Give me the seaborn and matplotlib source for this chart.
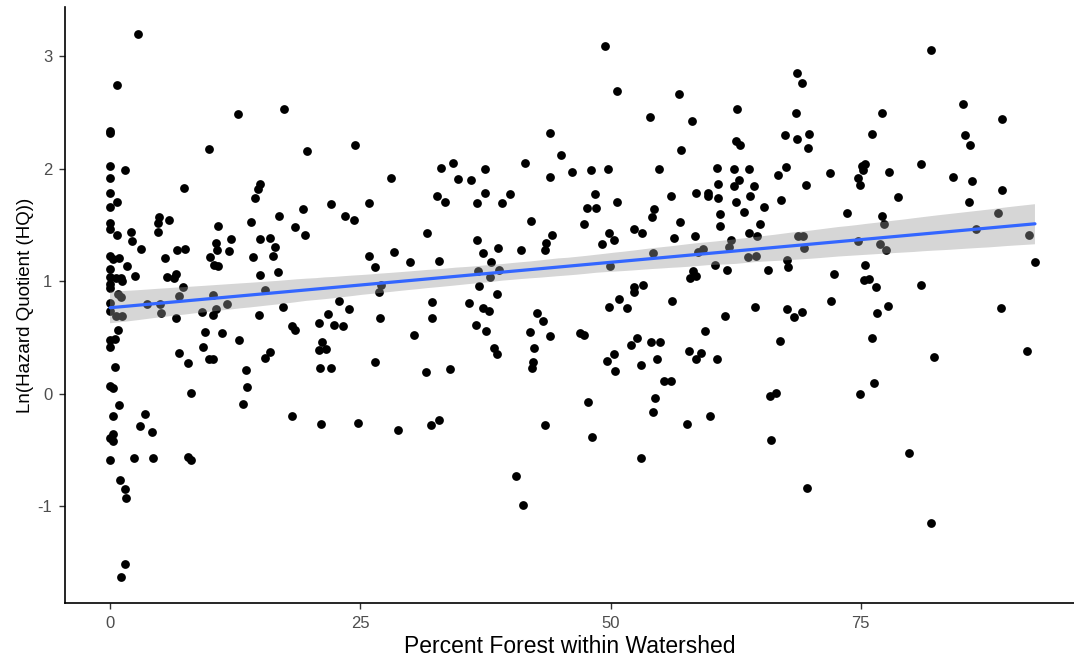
import matplotlib
matplotlib.use("Agg")
import matplotlib.pyplot as plt
from matplotlib.collections import PolyCollection
import seaborn as sns
import pandas as pd

# ---- data ----
forest_pct = [
    # 0-21 %
    2.76, 0.67, 0.0, 0.0, 12.8, 17.4, 9.87, 19.7, 0.0, 1.5, 0.0, 7.38, 15.0, 14.8, 14.5, 0.0, 0.73, 0.0,
    19.3, 16.9, 14.1, 4.89, 4.75, 4.75, 5.88, 0.0, 0.0, 2.06, 0.73, 10.8, 18.5, 19.5, 2.19, 3.09, 10.57,
    10.7, 10.0, 10.4, 10.8, 12.1, 11.9, 15.0, 16.0, 16.5, 16.3, 14.3, 15.0, 16.8, 6.68, 7.45, 5.48, 0.0,
    0.33, 0.9, 1.66, 2.49, 0.0, 0.0, 0.57, 1.1, 1.23, 0.0, 0.0, 5.72, 6.38, 6.61, 7.25, 0.83, 1.07, 6.85,
    10.3, 15.45, 0.0, 0.0, 3.65, 4.99, 11.7, 10.57, 5.05, 9.14, 10.3, 14.9, 17.3, 0.6, 1.17, 6.55,
    0.77, 0.0, 0.5, 0.0, 9.44, 11.2, 12.9, 9.24, 6.91, 7.81, 9.87, 10.3, 16.0, 15.5, 18.2, 18.5, 20.9,
    21.2, 20.9, 21.0, 0.5, 13.6, 0.0, 0.33, 8.1, 13.7, 13.3, 0.93, 0.33, 3.46, 2.99, 4.22, 18.2, 21.1,
    0.33, 0.0, 0.33, 0.0, 2.39, 4.32, 7.81, 8.04, 1.0, 1.46, 1.6, 1.46, 1.1,
    # 21-47 %
    24.5, 44.0, 45.1, 46.1, 28.1, 33.1, 34.3, 37.5, 34.8, 36.1, 41.5, 44.0, 22.1, 25.9, 23.5, 24.4, 32.7,
    33.5, 37.5, 36.7, 40.0, 39.2, 42.1, 31.7, 36.7, 44.2, 43.6, 43.5, 38.8, 41.1, 37.3, 38.1, 25.9, 26.5,
    28.4, 30.0, 32.9, 36.8, 38.0, 38.9, 27.1, 26.9, 36.9, 38.7, 22.9, 23.9, 21.8, 32.2, 35.9, 37.3, 37.9,
    42.7, 27.0, 32.2, 43.3,
    22.4, 23.3, 30.4, 36.6, 37.6, 42.0, 44.0, 46.9, 21.6, 38.4, 38.7, 42.4, 42.3, 42.2, 22.1, 26.5, 31.6,
    34.0, 24.8, 28.8, 32.1, 32.9, 43.5, 40.6, 41.3,
    # 47-72 %
    49.45, 50.6, 56.8, 53.9, 58.1, 62.6, 57.0, 68.6, 69.1, 68.5, 67.4, 68.6, 69.8, 69.7, 62.5, 62.9, 48.0,
    49.7, 54.8, 60.6, 62.3, 63.8, 67.5, 66.7, 71.95, 69.5, 60.7, 62.8, 62.3, 64.3, 48.4, 56.0, 58.55, 59.7,
    59.75, 60.75, 62.5, 63.9, 67.0, 50.6, 47.6, 48.5, 54.3, 54.1, 60.9, 63.3, 65.3, 47.3, 56.9, 60.9, 64.9,
    49.85, 50.3, 49.1, 52.3, 53.1, 56.3, 58.45, 63.8, 64.6, 62.0, 61.8, 68.7, 69.2, 69.3, 54.2, 59.2, 58.7,
    63.7, 64.5, 49.95, 60.4, 67.6, 67.7, 58.2, 58.5, 57.9, 61.6, 65.7, 72.3, 53.2, 52.3, 52.3, 50.8, 49.85,
    51.6, 56.1, 64.4, 67.6, 69.1, 68.3, 72.0, 61.4,
    47.3, 59.45, 66.95, 52.6, 52.0, 54.0, 54.9, 50.3, 49.6, 50.4, 53.0, 54.6, 57.8, 59.0, 58.5, 60.6, 55.3,
    56.0, 54.4, 54.2, 47.7, 48.1, 53.0, 57.6, 59.9, 65.9, 66.5, 66.0, 69.6,
    # 72-93 %
    82.05, 85.2, 89.1, 77.1, 76.1, 85.4, 85.9, 81.0, 75.1, 75.4, 75.2, 74.7, 74.9, 77.8, 84.2, 86.1, 89.1,
    78.7, 85.8, 73.6, 77.1, 77.3, 88.7, 86.5, 74.7, 76.9, 77.5, 91.8, 92.4, 75.4, 75.3, 75.8, 76.5, 81.0,
    76.6, 77.7, 89.0,
    76.1, 82.3, 91.6, 76.3, 74.9, 79.8, 82.05,
]

ln_hq = [
    # 0-21 %
    3.20, 2.75, 2.34, 2.32, 2.49, 2.53, 2.18, 2.16, 2.03, 1.99, 1.92, 1.83, 1.87, 1.82, 1.74, 1.79, 1.71, 1.66,
    1.64, 1.58, 1.53, 1.57, 1.52, 1.44, 1.55, 1.52, 1.47, 1.44, 1.41, 1.49, 1.48, 1.41, 1.36, 1.29, 1.34,
    1.28, 1.22, 1.15, 1.14, 1.38, 1.27, 1.38, 1.39, 1.31, 1.23, 1.22, 1.06, 1.08, 1.28, 1.29, 1.21, 1.23,
    1.20, 1.21, 1.14, 1.05, 1.11, 1.04, 1.03, 1.03, 1.00, 0.98, 0.94, 1.04, 1.03, 1.07, 0.95, 0.89, 0.86, 0.87,
    0.88, 0.92, 0.81, 0.74, 0.80, 0.80, 0.80, 0.75, 0.72, 0.73, 0.70, 0.70, 0.77, 0.69, 0.69, 0.67,
    0.57, 0.48, 0.49, 0.42, 0.55, 0.54, 0.48, 0.42, 0.36, 0.27, 0.31, 0.31, 0.37, 0.32, 0.60, 0.57, 0.63,
    0.46, 0.39, 0.23, 0.24, 0.21, 0.07, 0.05, 0.01, 0.06, -0.09, -0.10, -0.20, -0.18, -0.29, -0.34, -0.20, -0.27,
    -0.36, -0.39, -0.42, -0.59, -0.57, -0.57, -0.56, -0.59, -0.77, -0.85, -0.93, -1.51, -1.63,
    # 21-47 %
    2.21, 2.32, 2.12, 1.97, 1.92, 2.01, 2.05, 2.00, 1.91, 1.90, 2.05, 1.93, 1.69, 1.70, 1.58, 1.55, 1.76,
    1.71, 1.79, 1.70, 1.78, 1.70, 1.54, 1.43, 1.37, 1.41, 1.34, 1.28, 1.30, 1.28, 1.25, 1.17, 1.23, 1.13,
    1.26, 1.17, 1.18, 1.09, 1.04, 1.10, 0.97, 0.91, 0.96, 0.89, 0.83, 0.75, 0.71, 0.82, 0.81, 0.76, 0.74,
    0.72, 0.67, 0.67, 0.65,
    0.61, 0.60, 0.52, 0.61, 0.56, 0.55, 0.51, 0.54, 0.40, 0.41, 0.35, 0.41, 0.28, 0.23, 0.23, 0.28, 0.19,
    0.22, -0.26, -0.32, -0.28, -0.23, -0.28, -0.73, -0.99,
    # 47-72 %
    3.09, 2.69, 2.67, 2.46, 2.43, 2.53, 2.17, 2.85, 2.76, 2.50, 2.30, 2.27, 2.31, 2.19, 2.25, 2.21, 1.99,
    2.00, 2.00, 2.01, 2.00, 2.00, 2.02, 1.95, 1.96, 1.86, 1.87, 1.90, 1.85, 1.85, 1.78, 1.76, 1.79, 1.79,
    1.76, 1.74, 1.71, 1.76, 1.72, 1.71, 1.65, 1.65, 1.64, 1.57, 1.60, 1.62, 1.66, 1.51, 1.53, 1.49, 1.51,
    1.43, 1.37, 1.33, 1.47, 1.43, 1.39, 1.40, 1.43, 1.40, 1.37, 1.31, 1.40, 1.40, 1.30, 1.25, 1.29, 1.26,
    1.22, 1.23, 1.14, 1.15, 1.19, 1.13, 1.09, 1.05, 1.03, 1.10, 1.10, 1.07, 0.97, 0.95, 0.91, 0.84, 0.77,
    0.76, 0.83, 0.77, 0.75, 0.73, 0.68, 0.83, 0.69,
    0.52, 0.56, 0.47, 0.50, 0.43, 0.46, 0.46, 0.35, 0.29, 0.20, 0.26, 0.31, 0.38, 0.36, 0.31, 0.31, 0.11,
    0.11, -0.04, -0.16, -0.07, -0.38, -0.57, -0.27, -0.20, -0.02, 0.01, -0.41, -0.84,
    # 72-93 %
    3.06, 2.58, 2.44, 2.50, 2.31, 2.30, 2.21, 2.04, 2.03, 2.04, 1.99, 1.92, 1.86, 1.97, 1.93, 1.89, 1.81,
    1.75, 1.71, 1.61, 1.58, 1.51, 1.61, 1.47, 1.36, 1.33, 1.28, 1.41, 1.17, 1.15, 1.01, 1.02, 0.95, 0.97,
    0.72, 0.78, 0.76,
    0.50, 0.33, 0.38, 0.10, 0.00, -0.53, -1.15,
]

x_ticks = [0, 25, 50, 75]
y_ticks = [-1, 0, 1, 2, 3]
x_title = "Percent Forest within Watershed"
y_title = "Ln(Hazard Quotient (HQ))"

sns.set_theme(style="white")
plt.rcParams["font.family"] = ["Liberation Sans", "DejaVu Sans"]
plt.rcParams["axes.unicode_minus"] = False

df = pd.DataFrame({"forest": forest_pct, "lnhq": ln_hq})

W, H = 1074, 659
fig = plt.figure(figsize=(W / 100, H / 100), dpi=100)
ax = fig.add_axes([65 / W, 1 - 603 / H, 1 - 65 / W, (603 - 7) / H])

sns.regplot(
    data=df, x="forest", y="lnhq", ax=ax, ci=95, n_boot=1000, seed=7,
    color="black",
    scatter_kws=dict(s=40, color="black", linewidths=0, alpha=1, zorder=1),
    line_kws=dict(color="#3366FF", lw=2.3, zorder=3),
)

for coll in ax.collections:
    if isinstance(coll, PolyCollection):
        coll.set_alpha(None)
        coll.set_facecolor((0.6, 0.6, 0.6, 0.4))
        coll.set_edgecolor("none")
        coll.set_zorder(2)

ax.set_xlim(-4.5, 96.3)
ax.set_ylim(-1.86, 3.44)
ax.set_xticks(x_ticks)
ax.set_yticks(y_ticks)
ax.set_xticklabels([str(t) for t in x_ticks])
ax.set_yticklabels([str(t) for t in y_ticks])

for side in ("top", "right"):
    ax.spines[side].set_visible(False)
for side in ("left", "bottom"):
    ax.spines[side].set_color("black")
    ax.spines[side].set_linewidth(1.2)

ax.tick_params(axis="both", which="both", direction="out", length=4, width=1,
               color="#333333", labelcolor="#4D4D4D", labelsize=12, pad=5,
               bottom=True, left=True)

ax.set_xlabel(x_title, fontsize=16.5, color="black", labelpad=3)
ax.set_ylabel(y_title, fontsize=13.5, color="black", labelpad=3)

fig.savefig("out.png", dpi=100)
